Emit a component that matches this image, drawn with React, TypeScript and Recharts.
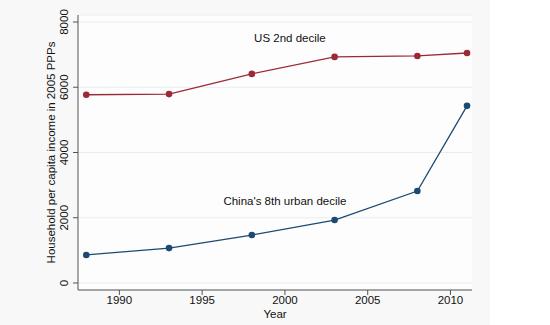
import React from "react";
import {
  LineChart,
  Line,
  XAxis,
  YAxis,
  CartesianGrid,
  ReferenceDot,
} from "recharts";

const C = {
  us: "#9b2a36",
  china: "#1c4a72",
  axis: "#555555",
  grid: "#e4eef0",
  text: "#111111",
  bg: "#f8f8f8",
};

const years = [1988, 1993, 1998, 2003, 2008, 2011];
const usValues = [5770, 5790, 6410, 6930, 6960, 7050];
const chinaValues = [860, 1070, 1470, 1930, 2820, 5430];
const xTicks = [1990, 1995, 2000, 2005, 2010];
const yTicks = [0, 2000, 4000, 6000, 8000];

const data = years.map((year, i) => ({ year, us: usValues[i], china: chinaValues[i] }));

const FONT = "'Liberation Sans', Arial, sans-serif";

// Stata-style vertical y tick labels
function YTick(props: any) {
  const { x, y, payload } = props;
  return (
    <text
      x={x - 3}
      y={y}
      transform={`rotate(-90 ${x - 3} ${y})`}
      textAnchor="middle"
      fontSize={11.5}
      fontFamily={FONT}
      fill={C.text}
    >
      {payload.value}
    </text>
  );
}

export default function App() {
  return (
    <div style={{ position: "fixed", left: 0, top: 0, width: 550, height: 325, background: "#ffffff" }}>
      <div style={{ width: 490, height: 325, background: C.bg }}>
        <LineChart width={490} height={325} data={data} margin={{ top: 15, right: 18, bottom: 0, left: 0 }}>
          <CartesianGrid horizontal vertical={false} stroke={C.grid} fill="#fdfdfd" />
          <XAxis
            dataKey="year"
            type="number"
            domain={[1987.5, 2011.3]}
            ticks={xTicks}
            height={35}
            tick={{ fontSize: 11.5, fill: C.text, fontFamily: FONT }}
            tickSize={5}
            tickMargin={1}
            stroke={C.axis}
            label={{ value: "Year", position: "insideBottom", offset: 7, fontSize: 11.5, fill: C.text, fontFamily: FONT }}
          />
          <YAxis
            type="number"
            domain={[-215, 8215]}
            ticks={yTicks}
            width={78}
            tick={<YTick />}
            tickSize={5}
            stroke={C.axis}
            label={{
              value: "Household per capita income in 2005 PPPs",
              angle: -90,
              position: "insideLeft",
              offset: 51,
              style: { textAnchor: "middle" },
              fontSize: 11.5,
              fill: C.text,
              fontFamily: FONT,
            }}
          />
          <Line
            dataKey="us"
            stroke={C.us}
            strokeWidth={1.3}
            dot={{ r: 3.3, fill: C.us, stroke: C.us, strokeWidth: 0 }}
            isAnimationActive={false}
          />
          <Line
            dataKey="china"
            stroke={C.china}
            strokeWidth={1.3}
            dot={{ r: 3.3, fill: C.china, stroke: C.china, strokeWidth: 0 }}
            isAnimationActive={false}
          />
          <ReferenceDot
            x={2000.3}
            y={7515}
            r={0}
            stroke="none"
            fill="none"
            label={{ value: "US 2nd decile", position: "center", fontSize: 11.5, fill: C.text, fontFamily: FONT }}
          />
          <ReferenceDot
            x={2000}
            y={2515}
            r={0}
            stroke="none"
            fill="none"
            label={{ value: "China's 8th urban decile", position: "center", fontSize: 11.5, fill: C.text, fontFamily: FONT }}
          />
        </LineChart>
      </div>
    </div>
  );
}
